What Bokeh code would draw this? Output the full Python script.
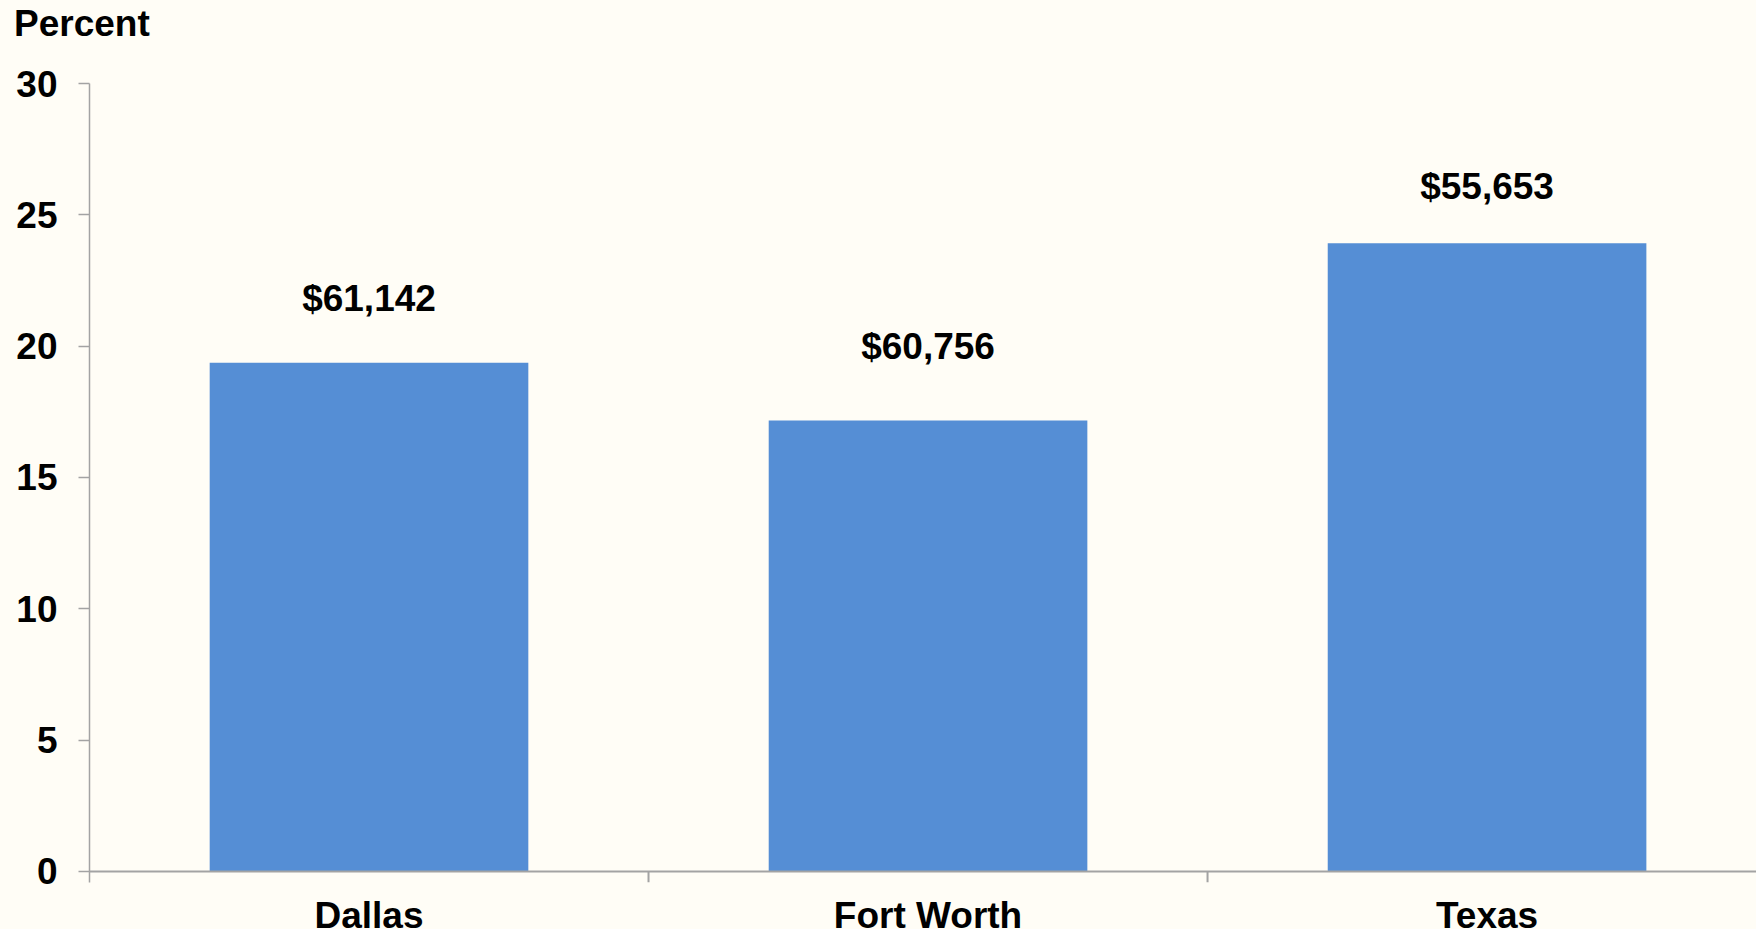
from bokeh.plotting import figure
from bokeh.models import Range1d, FixedTicker, Span, ColumnDataSource, Div
from bokeh.layouts import column
from bokeh.core.properties import value
from bokeh.embed import file_html
from bokeh.resources import INLINE

categories = ["Dallas", "Fort Worth", "Texas"]
percent = [19.37, 17.17, 23.92]
income_labels = ["$61,142", "$60,756", "$55,653"]
y_ticks = [0, 5, 10, 15, 20, 25, 30]
unit_label = "Percent"

# label placement (screen pixels above bar top), styling only
label_offsets = [-64, -74, -57]

FONT = "Liberation Sans"
BG = "#FFFDF6"
AXIS = "#A3A3A3"
BAR = "#558ED5"

xs = [i + 0.5 for i in range(len(categories))]
src = ColumnDataSource(dict(x=xs, top=percent, label=income_labels, yo=label_offsets))

header = Div(
    text=f'<span style="font-family:\'{FONT}\';font-size:37px;font-weight:bold;color:black;'
         f'line-height:48px;white-space:nowrap;">{unit_label}</span>',
    width=1756, height=48,
    styles={"background-color": BG, "padding-left": "14px", "margin": "0",
            "line-height": "48px", "box-sizing": "border-box"},
)

p = figure(
    frame_width=1667, frame_height=799,
    min_border_left=89, min_border_right=0, min_border_top=35, min_border_bottom=46,
    x_range=Range1d(0, 2.982), y_range=Range1d(-0.42, 30),
    output_backend="svg", toolbar_location=None,
    background_fill_color=BG, border_fill_color=BG, outline_line_color=None,
)

p.grid.visible = False

p.vbar(x="x", top="top", bottom=0, width=0.57, source=src, color=BAR, line_color=None)
p.text(x="x", y="top", text="label", source=src, y_offset="yo",
       text_align="center", text_baseline="middle",
       text_font=value(FONT), text_font_size="37px", text_font_style="bold", text_color="black")

# zero line and category boundary ticks
p.add_layout(Span(location=0, dimension="width", line_color=AXIS, line_width=2))
p.segment(x0=[1, 2], y0=[0, 0], x1=[1, 2], y1=[-0.42, -0.42], line_color=AXIS, line_width=2)

ya = p.yaxis[0]
ya.ticker = FixedTicker(ticks=y_ticks)
ya.axis_line_color = AXIS
ya.axis_line_width = 1.5
ya.major_tick_line_color = AXIS
ya.major_tick_line_width = 1.5
ya.major_tick_out = 11
ya.major_tick_in = 0
ya.minor_tick_line_color = None
ya.major_label_standoff = 21
ya.major_label_text_font = FONT
ya.major_label_text_font_size = "37px"
ya.major_label_text_font_style = "bold"
ya.major_label_text_color = "black"

xa = p.xaxis[0]
xa.ticker = FixedTicker(ticks=xs)
xa.major_label_overrides = {x: c for x, c in zip(xs, categories)}
xa.axis_line_color = None
xa.major_tick_line_color = None
xa.minor_tick_line_color = None
xa.major_tick_out = 0
xa.major_tick_in = 0
xa.major_label_standoff = 12
xa.major_label_text_font = FONT
xa.major_label_text_font_size = "37px"
xa.major_label_text_font_style = "bold"
xa.major_label_text_color = "black"

layout = column(header, p, spacing=0, styles={"background-color": BG})

open("out.html", "w").write(file_html(layout, INLINE))
